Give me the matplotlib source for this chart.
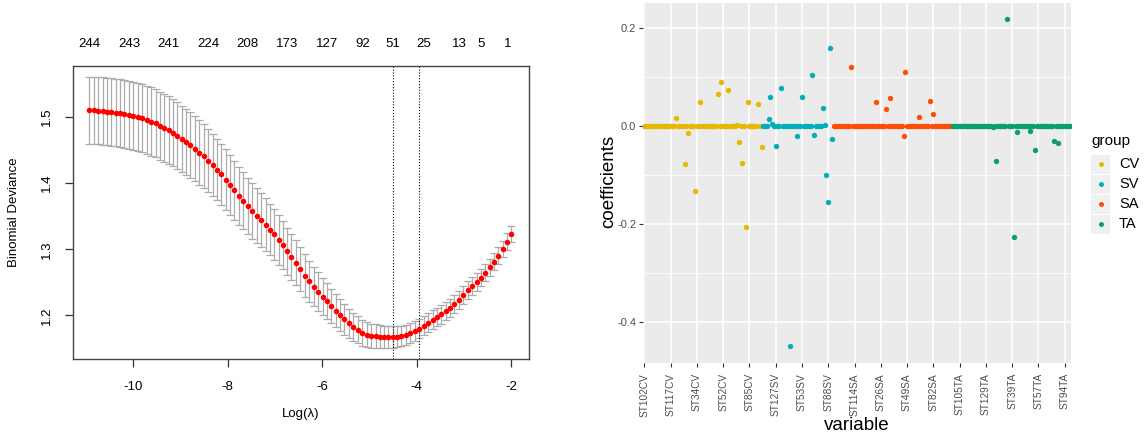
import matplotlib.pyplot as plt
from matplotlib.patches import Rectangle
from matplotlib.lines import Line2D

plt.rcParams['font.family'] = ['Liberation Sans', 'DejaVu Sans']
plt.rcParams['axes.unicode_minus'] = False

# ---- left panel: cross-validated binomial deviance ----
log_lambda = [
    -10.93, -10.84, -10.75, -10.65, -10.56, -10.47, -10.37, -10.28, -10.19, -10.09,
    -10.00, -9.91, -9.81, -9.72, -9.63, -9.53, -9.44, -9.35, -9.25, -9.16,
    -9.07, -8.97, -8.88, -8.79, -8.70, -8.60, -8.51, -8.42, -8.32, -8.23,
    -8.14, -8.04, -7.95, -7.86, -7.76, -7.67, -7.58, -7.48, -7.39, -7.30,
    -7.20, -7.11, -7.02, -6.92, -6.83, -6.74, -6.65, -6.55, -6.46, -6.37,
    -6.27, -6.18, -6.09, -5.99, -5.90, -5.81, -5.71, -5.62, -5.53, -5.43,
    -5.34, -5.25, -5.15, -5.06, -4.97, -4.87, -4.78, -4.69, -4.60, -4.50,
    -4.41, -4.32, -4.22, -4.13, -4.04, -3.94, -3.85, -3.76, -3.66, -3.57,
    -3.48, -3.38, -3.29, -3.20, -3.10, -3.01, -2.92, -2.82, -2.73, -2.64,
    -2.55, -2.45, -2.36, -2.27, -2.17, -2.08, -1.99]

cv_mean = [
    1.5106, 1.5106, 1.5101, 1.5096, 1.5086, 1.5076, 1.5071, 1.5061, 1.5051, 1.5040,
    1.5025, 1.5005, 1.4985, 1.4960, 1.4934, 1.4909, 1.4874, 1.4843, 1.4803, 1.4768,
    1.4717, 1.4672, 1.4626, 1.4576, 1.4520, 1.4465, 1.4409, 1.4343, 1.4273, 1.4207,
    1.4136, 1.4056, 1.3975, 1.3894, 1.3813, 1.3737, 1.3657, 1.3581, 1.3510, 1.3439,
    1.3374, 1.3298, 1.3227, 1.3141, 1.3061, 1.2970, 1.2884, 1.2793, 1.2702, 1.2601,
    1.2515, 1.2434, 1.2359, 1.2278, 1.2212, 1.2141, 1.2071, 1.2005, 1.1939, 1.1879,
    1.1828, 1.1778, 1.1737, 1.1707, 1.1687, 1.1682, 1.1677, 1.1672, 1.1672, 1.1670,
    1.1677, 1.1687, 1.1707, 1.1732, 1.1763, 1.1798, 1.1843, 1.1889, 1.1934, 1.1975,
    1.2015, 1.2061, 1.2111, 1.2167, 1.2232, 1.2303, 1.2379, 1.2444, 1.2505, 1.2571,
    1.2646, 1.2727, 1.2808, 1.2904, 1.3005, 1.3116, 1.3232]

cv_se = [
    0.0510, 0.0510, 0.0511, 0.0511, 0.0512, 0.0512, 0.0513, 0.0513, 0.0514, 0.0514,
    0.0515, 0.0515, 0.0516, 0.0516, 0.0516, 0.0516, 0.0515, 0.0514, 0.0512, 0.0510,
    0.0507, 0.0504, 0.0500, 0.0496, 0.0492, 0.0488, 0.0483, 0.0478, 0.0473, 0.0468,
    0.0463, 0.0458, 0.0452, 0.0446, 0.0440, 0.0434, 0.0428, 0.0421, 0.0414, 0.0407,
    0.0400, 0.0392, 0.0384, 0.0376, 0.0367, 0.0358, 0.0349, 0.0340, 0.0330, 0.0320,
    0.0310, 0.0300, 0.0290, 0.0280, 0.0270, 0.0260, 0.0250, 0.0240, 0.0230, 0.0221,
    0.0213, 0.0205, 0.0198, 0.0191, 0.0185, 0.0179, 0.0174, 0.0169, 0.0165, 0.0161,
    0.0158, 0.0155, 0.0152, 0.0150, 0.0148, 0.0146, 0.0144, 0.0143, 0.0142, 0.0141,
    0.0140, 0.0139, 0.0138, 0.0137, 0.0136, 0.0135, 0.0134, 0.0133, 0.0132, 0.0131,
    0.0130, 0.0129, 0.0128, 0.0128, 0.0127, 0.0127, 0.0126]

log_lambda_min = -4.50
log_lambda_1se = -3.94

# number of nonzero coefficients shown on the top axis (and which lambda they sit on)
nz_counts = [244, 243, 241, 224, 208, 173, 127, 92, 51, 25, 13, 5, 1]
nz_lambda_idx = [0, 9, 18, 27, 36, 45, 54, 62, 69, 76, 84, 89, 95]

# ---- right panel: coefficients at the chosen lambda ----
groups = ['CV', 'SV', 'SA', 'TA']
group_sizes = [68, 40, 68, 68]
group_colors = ['#E7B800', '#00AFBB', '#FC4E07', '#0A9E73']

# nonzero coefficients, keyed by variable position; all others are 0
nonzero_coefs = {
    'CV': {18: 0.016, 23: -0.078, 25: -0.014, 29: -0.133, 32: 0.048, 42: 0.066,
           44: 0.089, 48: 0.074, 53: 0.003, 54: -0.032, 56: -0.076, 58: -0.207,
           59: 0.050, 65: 0.044, 67: -0.043},
    'SV': {71: 0.014, 72: 0.059, 73: 0.004, 75: -0.041, 78: 0.078, 83: -0.449,
           87: -0.021, 90: 0.059, 96: 0.104, 97: -0.018, 102: 0.037, 103: 0.003,
           104: -0.099, 105: -0.156, 106: 0.160, 107: -0.027},
    'SA': {118: 0.120, 132: 0.050, 138: 0.035, 140: 0.058, 148: -0.021,
           149: 0.110, 157: 0.018, 163: 0.052, 165: 0.024},
    'TA': {199: -0.003, 201: -0.071, 207: 0.218, 211: -0.227, 213: -0.012,
           220: -0.010, 223: -0.048, 234: -0.031, 236: -0.035},
}

var_tick_labels = ['ST102CV', 'ST117CV', 'ST34CV', 'ST52CV', 'ST85CV', 'ST127SV',
                   'ST53SV', 'ST88SV', 'ST114SA', 'ST26SA', 'ST49SA', 'ST82SA',
                   'ST105TA', 'ST129TA', 'ST39TA', 'ST57TA', 'ST94TA']
var_tick_every = 15

W, H = 1144, 440
fig = plt.figure(figsize=(W / 100, H / 100), dpi=100)


def px_axes(x0, y0, x1, y1):
    return fig.add_axes([x0 / W, 1 - y1 / H, (x1 - x0) / W, (y1 - y0) / H])


# left
ax = px_axes(72.7, 65.7, 528.7, 359)
ax.errorbar(log_lambda, cv_mean, yerr=cv_se, fmt='none', ecolor='#ABABAB',
            elinewidth=0.9, capsize=2.6, capthick=0.9, zorder=1)
ax.scatter(log_lambda, cv_mean, s=16, color='red', linewidths=0, zorder=3)
ax.axvline(log_lambda_min, color='black', ls=(0, (1, 1.6)), lw=0.8, zorder=2)
ax.axvline(log_lambda_1se, color='black', ls=(0, (1, 1.6)), lw=0.8, zorder=2)
ax.set_xlim(-11.284, -1.625)
ax.set_ylim(1.1338, 1.578)
ax.set_xticks([-10, -8, -6, -4, -2])
ax.set_yticks([1.2, 1.3, 1.4, 1.5])
ax.set_yticklabels(['1.2', '1.3', '1.4', '1.5'], rotation=90, va='center')
ax.tick_params(length=6, width=0.9, color='#333333', labelsize=9.5, pad=8)
ax.tick_params(axis='x', pad=10)
for s in ax.spines.values():
    s.set_color('#444444')
    s.set_linewidth(1)

top = ax.twiny()
top.set_xlim(ax.get_xlim())
top.set_xticks([log_lambda[i] for i in nz_lambda_idx])
top.set_xticklabels([str(n) for n in nz_counts])
top.tick_params(length=0, labelsize=9.5, pad=11)
for s in top.spines.values():
    s.set_visible(False)

fig.text(300.7 / W, 1 - 414 / H, 'Log(\u03bb)', ha='center', va='center', fontsize=9.5)
fig.text(14 / W, 1 - 212 / H, 'Binomial Deviance', ha='center', va='center',
         rotation=90, fontsize=9.5)

# right
bx = px_axes(643.3, 3, 1071, 362.7)
bx.set_facecolor('#EBEBEB')
for s in bx.spines.values():
    s.set_visible(False)
start = 0
for g, n, c in zip(groups, group_sizes, group_colors):
    xs = list(range(start, start + n))
    ys = [nonzero_coefs[g].get(i, 0.0) for i in xs]
    bx.scatter(xs, ys, s=15, color=c, linewidths=0, zorder=3)
    start += n
total = sum(group_sizes)
bx.set_xlim(-0.6, total - 1 + 0.6)
bx.set_ylim(-0.483, 0.251)
bx.set_yticks([-0.4, -0.2, 0.0, 0.2])
bx.set_yticklabels(['-0.4', '-0.2', '0.0', '0.2'])
bx.set_yticks([-0.3, -0.1, 0.1], minor=True)
bx.set_xticks(list(range(0, total, var_tick_every)))
bx.set_xticklabels(var_tick_labels, rotation=90, va='top')
bx.tick_params(which='major', length=3, width=0.8, color='#333333',
               labelcolor='#4D4D4D', pad=2)
bx.tick_params(axis='x', labelsize=7.3, pad=4.5)
bx.tick_params(axis='y', labelsize=8)
bx.tick_params(which='minor', length=0)
bx.grid(which='major', color='white', lw=1.1)
bx.grid(which='minor', axis='y', color='white', lw=0.55)
bx.set_axisbelow(True)

fig.text(609 / W, 1 - 181 / H, 'coefficients', ha='center', va='center',
         rotation=90, fontsize=13.5)
fig.text(857 / W, 1 - 425 / H, 'variable', ha='center', va='center', fontsize=13.5)

# legend
fig.text(1091 / W, 1 - 140.5 / H, 'group', ha='left', va='center', fontsize=11)
for k, (g, c) in enumerate(zip(groups, group_colors)):
    cy = 164.3 + 20 * k
    fig.add_artist(Rectangle((1091 / W, 1 - (cy + 9.5) / H), 19 / W, 19 / H,
                             transform=fig.transFigure, facecolor='#F0F0F0',
                             edgecolor='none'))
    fig.add_artist(Line2D([1100.5 / W], [1 - cy / H], marker='o', ms=3.6,
                          color=c, mec='none', transform=fig.transFigure))
    fig.text(1119 / W, 1 - cy / H, g, ha='left', va='center', fontsize=10.5)

fig.savefig('out.png', dpi=100)
